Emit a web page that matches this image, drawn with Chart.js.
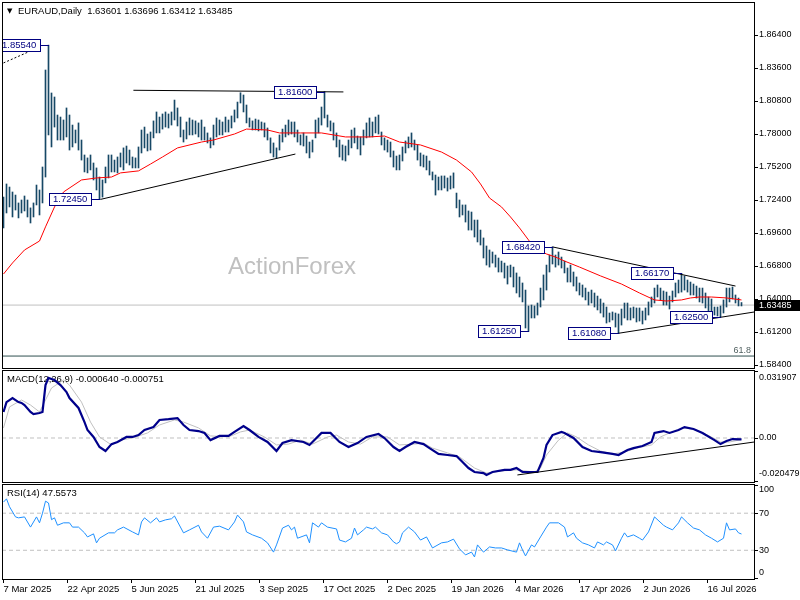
<!DOCTYPE html>
<html>
<head>
<meta charset="utf-8">
<script src="https://cdn.jsdelivr.net/npm/chart.js@4.4.1/dist/chart.umd.min.js"></script>
<style>
  body { margin: 0; background: #fff; width: 800px; height: 600px; overflow: hidden; position: relative; }
  canvas { position: absolute; left: 0; }
</style>
</head>
<body>
<canvas id="mainChart" width="800" height="369" style="top:0"></canvas>
<canvas id="macdChart" width="800" height="114" style="top:369px"></canvas>
<canvas id="rsiChart" width="800" height="117" style="top:483px"></canvas>
<script>
// daily bars, high / low (one entry per bar, oldest first)
var highs = [
  1.7265, 1.7376, 1.7350, 1.7308, 1.7282, 1.7215, 1.7240, 1.7274, 1.7240, 1.7173,
  1.7215, 1.7367, 1.7325, 1.7520, 1.8343, 1.8554, 1.8148, 1.8114, 1.7961, 1.7944,
  1.7919, 1.8021, 1.7961, 1.7876, 1.7834, 1.7894, 1.7749, 1.7622, 1.7597, 1.7622,
  1.7554, 1.7512, 1.7435, 1.7410, 1.7520, 1.7622, 1.7622, 1.7579, 1.7605, 1.7639,
  1.7682, 1.7698, 1.7664, 1.7605, 1.7597, 1.7690, 1.7834, 1.7859, 1.7800, 1.7817,
  1.7911, 1.7987, 1.7944, 1.7970, 1.7987, 1.7970, 1.7987, 1.8088, 1.8021, 1.7944,
  1.7834, 1.7902, 1.7936, 1.7919, 1.7911, 1.7894, 1.7919, 1.7859, 1.7809, 1.7767,
  1.7876, 1.7936, 1.7919, 1.7902, 1.7944, 1.7919, 1.7953, 1.8004, 1.8071, 1.8150,
  1.8131, 1.8046, 1.7936, 1.7911, 1.7927, 1.7919, 1.7902, 1.7894, 1.7851, 1.7767,
  1.7724, 1.7682, 1.7792, 1.7842, 1.7876, 1.7919, 1.7902, 1.7902, 1.7834, 1.7792,
  1.7809, 1.7783, 1.7732, 1.7749, 1.7919, 1.7936, 1.8029, 1.8160, 1.7961, 1.7911,
  1.7894, 1.7809, 1.7749, 1.7707, 1.7698, 1.7749, 1.7834, 1.7851, 1.7783, 1.7775,
  1.7834, 1.7894, 1.7936, 1.7902, 1.7944, 1.7961, 1.7817, 1.7767, 1.7749, 1.7732,
  1.7656, 1.7613, 1.7622, 1.7690, 1.7741, 1.7775, 1.7809, 1.7749, 1.7707, 1.7639,
  1.7622, 1.7613, 1.7571, 1.7478, 1.7452, 1.7435, 1.7444, 1.7444, 1.7427, 1.7444,
  1.7470, 1.7299, 1.7240, 1.7198, 1.7198, 1.7147, 1.7138, 1.7070, 1.7070, 1.6985,
  1.6918, 1.6850, 1.6816, 1.6799, 1.6773, 1.6748, 1.6722, 1.6705, 1.6680, 1.6688,
  1.6671, 1.6621, 1.6587, 1.6536, 1.6476, 1.6341, 1.6349, 1.6341, 1.6366, 1.6493,
  1.6604, 1.6688, 1.6773, 1.6842, 1.6773, 1.6799, 1.6756, 1.6722, 1.6663, 1.6688,
  1.6629, 1.6587, 1.6536, 1.6519, 1.6493, 1.6459, 1.6476, 1.6451, 1.6425, 1.6400,
  1.6366, 1.6332, 1.6281, 1.6290, 1.6281, 1.6273, 1.6315, 1.6366, 1.6366, 1.6324,
  1.6332, 1.6324, 1.6324, 1.6298, 1.6324, 1.6375, 1.6417, 1.6493, 1.6519, 1.6493,
  1.6468, 1.6459, 1.6425, 1.6468, 1.6536, 1.6561, 1.6617, 1.6595, 1.6561, 1.6544,
  1.6527, 1.6510, 1.6493, 1.6493, 1.6451, 1.6417, 1.6400, 1.6332, 1.6332, 1.6341,
  1.6392, 1.6493, 1.6493, 1.6502, 1.6434, 1.6408, 1.6370
];
var lows = [
  1.7003, 1.7130, 1.7181, 1.7096, 1.7155, 1.7088, 1.7130, 1.7147, 1.7096, 1.7045,
  1.7096, 1.7198, 1.7113, 1.7215, 1.7435, 1.7792, 1.7690, 1.7859, 1.7749, 1.7749,
  1.7749, 1.7775, 1.7664, 1.7690, 1.7724, 1.7664, 1.7579, 1.7478, 1.7470, 1.7495,
  1.7410, 1.7325, 1.7245, 1.7265, 1.7385, 1.7427, 1.7478, 1.7478, 1.7470, 1.7520,
  1.7495, 1.7554, 1.7537, 1.7512, 1.7512, 1.7512, 1.7639, 1.7682, 1.7656, 1.7664,
  1.7767, 1.7809, 1.7809, 1.7842, 1.7859, 1.7851, 1.7876, 1.7919, 1.7868, 1.7775,
  1.7732, 1.7758, 1.7792, 1.7792, 1.7800, 1.7775, 1.7749, 1.7749, 1.7724, 1.7682,
  1.7707, 1.7775, 1.7792, 1.7792, 1.7817, 1.7817, 1.7851, 1.7902, 1.7936, 1.8063,
  1.7987, 1.7894, 1.7859, 1.7834, 1.7834, 1.7826, 1.7834, 1.7775, 1.7749, 1.7639,
  1.7605, 1.7597, 1.7664, 1.7732, 1.7775, 1.7792, 1.7800, 1.7775, 1.7732, 1.7707,
  1.7698, 1.7639, 1.7597, 1.7647, 1.7767, 1.7809, 1.7876, 1.7936, 1.7859, 1.7826,
  1.7749, 1.7690, 1.7605, 1.7579, 1.7571, 1.7622, 1.7682, 1.7724, 1.7673, 1.7622,
  1.7707, 1.7767, 1.7775, 1.7775, 1.7809, 1.7800, 1.7707, 1.7664, 1.7647, 1.7605,
  1.7520, 1.7495, 1.7495, 1.7571, 1.7639, 1.7682, 1.7690, 1.7664, 1.7579, 1.7529,
  1.7520, 1.7495, 1.7452, 1.7410, 1.7282, 1.7325, 1.7325, 1.7342, 1.7316, 1.7333,
  1.7342, 1.7173, 1.7096, 1.7113, 1.7053, 1.6985, 1.6985, 1.6926, 1.6884, 1.6858,
  1.6748, 1.6688, 1.6671, 1.6705, 1.6671, 1.6629, 1.6629, 1.6578, 1.6527, 1.6587,
  1.6502, 1.6451, 1.6417, 1.6375, 1.6154, 1.6125, 1.6239, 1.6239, 1.6264, 1.6332,
  1.6392, 1.6476, 1.6629, 1.6697, 1.6671, 1.6688, 1.6663, 1.6621, 1.6544, 1.6544,
  1.6510, 1.6468, 1.6434, 1.6417, 1.6392, 1.6349, 1.6366, 1.6332, 1.6307, 1.6281,
  1.6247, 1.6196, 1.6205, 1.6222, 1.6162, 1.6108, 1.6179, 1.6239, 1.6222, 1.6222,
  1.6239, 1.6205, 1.6213, 1.6188, 1.6222, 1.6264, 1.6332, 1.6366, 1.6417, 1.6392,
  1.6349, 1.6349, 1.6315, 1.6375, 1.6417, 1.6451, 1.6459, 1.6476, 1.6459, 1.6434,
  1.6434, 1.6408, 1.6375, 1.6366, 1.6324, 1.6298, 1.6273, 1.6264, 1.6256, 1.6250,
  1.6281, 1.6332, 1.6375, 1.6400, 1.6366, 1.6341, 1.6341
];
var lastOHLC = [1.63601, 1.63696, 1.63412, 1.63485];

// moving average (red), read at a subset of bars
var maBars = [0, 3, 7, 12, 14, 17, 20, 26, 31, 36, 39, 45, 49, 53, 58, 66, 70, 77, 81, 88,
  92, 99, 106, 114, 122, 127, 132, 139, 146, 151, 156, 159, 162, 166, 169, 172, 175, 177, 181, 184,
  187, 192, 199, 206, 212, 217, 221, 226, 229, 232, 236, 241, 246];
var maValues = [1.6612, 1.6706, 1.6816, 1.6892, 1.7012, 1.7181, 1.7308, 1.7410, 1.7427, 1.7435,
  1.7470, 1.7487, 1.7545, 1.7605, 1.7682, 1.7732, 1.7749, 1.7800, 1.7842, 1.7834,
  1.7809, 1.7809, 1.7809, 1.7775, 1.7775, 1.7783, 1.7732, 1.7707, 1.7647, 1.7579,
  1.7478, 1.7376, 1.7257, 1.7181, 1.7096, 1.7003, 1.6901, 1.6833, 1.6782, 1.6756,
  1.6722, 1.6671, 1.6596, 1.6527, 1.6451, 1.6392, 1.6383, 1.6392, 1.6409, 1.6417,
  1.6417, 1.6409, 1.6392];

// swing labels on the price panel
var swingBars = [15, 107, 32, 183, 175, 205, 226, 239];
var swingPrices = [1.8554, 1.8160, 1.7245, 1.6842, 1.6125, 1.6108, 1.6617, 1.6250];

// trendlines on the price panel (first one dashed)
var trendStartBar = [0, 43.3, 32.3, 183, 204.7];
var trendStartPrice = [1.8403, 1.8171, 1.7245, 1.6842, 1.6108];
var trendEndBar = [12, 113.3, 97.3, 244, 250.3];
var trendEndPrice = [1.8538, 1.8157, 1.7630, 1.6510, 1.6290];
var fibLevel = 1.5916;
var fibName = '61.8';

var priceTicks = [1.864, 1.836, 1.808, 1.780, 1.752, 1.724, 1.696, 1.668, 1.640, 1.612, 1.584];

// MACD(12,26,9)
var macdBars = [0, 1, 3, 5, 6, 7, 9, 10, 12, 13, 14, 15, 16, 17, 19, 21, 22, 25, 27, 28,
  30, 32, 34, 36, 38, 41, 43, 45, 47, 50, 52, 55, 58, 60, 62, 65, 67, 69, 72, 75,
  77, 80, 82, 85, 88, 91, 93, 96, 100, 102, 106, 109, 112, 115, 118, 121, 125, 127, 130, 132,
  134, 137, 140, 142, 145, 148, 151, 153, 155, 157, 160, 161, 163, 167, 169, 171, 173, 176, 178, 180,
  181, 183, 186, 187, 190, 193, 196, 199, 203, 205, 208, 210, 213, 216, 217, 220, 222, 225, 227, 230,
  233, 237, 239, 241, 243, 246];
var macdMain = [0.0124, 0.0171, 0.0190, 0.0171, 0.0167, 0.0157, 0.0124, 0.0114, 0.0119, 0.0124,
  0.0252, 0.0286, 0.0281, 0.0276, 0.0252, 0.0219, 0.0190, 0.0143, 0.0076, 0.0038,
  0.0005, -0.0043, -0.0062, -0.0029, -0.0019, 0.0005, 0.0005, 0.0014, 0.0038, 0.0052,
  0.0086, 0.0090, 0.0095, 0.0062, 0.0038, 0.0033, 0.0024, -0.0010, 0.0010, 0.0010,
  0.0029, 0.0057, 0.0038, 0.0005, -0.0019, -0.0062, -0.0024, -0.0010, -0.0019, -0.0033,
  0.0024, 0.0024, -0.0019, -0.0043, -0.0024, 0.0005, 0.0019, 0.0000, -0.0043, -0.0062,
  -0.0043, -0.0019, -0.0029, -0.0048, -0.0076, -0.0081, -0.0086, -0.0114, -0.0143, -0.0162,
  -0.0167, -0.0176, -0.0162, -0.0152, -0.0152, -0.0143, -0.0162, -0.0162, -0.0162, -0.0095,
  -0.0033, 0.0014, 0.0029, 0.0024, 0.0000, -0.0043, -0.0062, -0.0067, -0.0076, -0.0081,
  -0.0057, -0.0048, -0.0038, -0.0019, 0.0024, 0.0033, 0.0024, 0.0038, 0.0052, 0.0043,
  0.0024, -0.0010, -0.0029, -0.0014, -0.0005, -0.000640];
var signalBars = [0, 2, 6, 9, 12, 16, 20, 22, 26, 29, 32, 36, 39, 43, 48, 52, 57, 60, 65, 69,
  75, 79, 82, 87, 91, 95, 99, 103, 108, 111, 115, 119, 123, 128, 132, 137, 140, 143, 148, 152,
  157, 161, 166, 171, 177, 179, 181, 185, 188, 191, 195, 199, 203, 207, 211, 216, 219, 222, 227, 231,
  236, 239, 242, 246];
var macdSignal = [0.0048, 0.0148, 0.0181, 0.0157, 0.0124, 0.0238, 0.0276, 0.0252, 0.0171, 0.0076,
  0.0005, -0.0033, -0.0010, 0.0000, 0.0024, 0.0062, 0.0086, 0.0076, 0.0048, 0.0010,
  0.0005, 0.0029, 0.0038, 0.0005, -0.0033, -0.0029, -0.0010, -0.0029, 0.0005, 0.0014,
  -0.0019, -0.0029, 0.0005, 0.0005, -0.0033, -0.0029, -0.0024, -0.0048, -0.0071, -0.0090,
  -0.0143, -0.0167, -0.0157, -0.0152, -0.0162, -0.0143, -0.0081, -0.0010, 0.0024, 0.0005,
  -0.0033, -0.0062, -0.0076, -0.0067, -0.0048, -0.0033, 0.0005, 0.0024, 0.0048, 0.0038,
  0.0005, -0.0019, -0.0019, -0.000751];
var macdTrendBar = [171.3, 250.3];
var macdTrendValue = [-0.0176, -0.0019];
var macdTicks = [0.031907, 0, -0.020479];
var macdTickLabels = ['0.031907', '0.00', '-0.020479'];

// RSI(14)
var rsiBars = [0, 1, 2, 4, 5, 7, 9, 11, 12, 13, 14, 15, 16, 17, 18, 20, 22, 23, 25, 27,
  28, 30, 31, 32, 35, 37, 38, 40, 43, 45, 46, 47, 49, 51, 52, 54, 56, 57, 60, 62,
  65, 66, 68, 70, 72, 75, 77, 78, 80, 81, 83, 86, 88, 90, 91, 93, 95, 96, 97, 98,
  101, 102, 103, 105, 106, 108, 111, 112, 114, 116, 117, 118, 120, 121, 123, 124, 126, 128, 130, 131,
  132, 133, 135, 137, 139, 141, 143, 146, 148, 150, 152, 154, 156, 157, 158, 160, 162, 164, 166, 168,
  171, 172, 173, 174, 176, 177, 179, 181, 182, 185, 187, 188, 190, 191, 193, 195, 197, 198, 200, 201,
  203, 204, 206, 207, 208, 210, 212, 213, 215, 217, 220, 221, 223, 225, 226, 228, 230, 232, 234, 236,
  238, 240, 241, 242, 244, 245, 246];
var rsiValues = [82, 85.5, 77, 66, 65, 66, 55, 66, 59.6, 70, 83, 81, 63, 65, 57, 59.6, 59.6, 55, 55, 48.8,
  44.4, 47.7, 38, 43, 48.8, 48.8, 52, 55, 49.8, 46.6, 60.6, 65, 59.6, 65, 60.6, 62.8, 64, 67, 48.8, 52,
  57, 49.8, 43, 55, 56, 52, 60.6, 68, 60.6, 49.8, 46.6, 43, 38, 28, 35.8, 54, 57, 52, 55, 43,
  46.6, 38, 59.6, 55, 59.6, 55, 53, 41, 39, 43, 54, 46.6, 52, 55, 53, 55, 48.8, 46.6, 39, 37,
  39, 48.8, 55, 49.8, 41, 44.4, 32.5, 38, 39, 42, 31.5, 25, 28, 22.8, 35.8, 28, 33.6, 32.5, 32.5, 30.4,
  28, 38, 30.4, 23.9, 35.8, 33.6, 44.4, 55, 59.6, 59.6, 55, 44.4, 48.8, 43, 38, 35.8, 32.5, 39, 35.8, 39,
  35.8, 29.3, 43, 48.8, 44.4, 46.6, 43, 41, 49.8, 66, 57, 55, 52, 59.6, 66, 59.6, 54, 52, 46.6, 43,
  39, 43, 59.6, 52, 53, 48.8, 47.5573];
var rsiLevels = [70, 30];
var rsiTicks = [100, 70, 30, 0];

// time axis
var dateBars = [0, 21.33, 42.67, 64, 85.33, 106.67, 128, 149.33, 170.67, 192, 213.33, 234.67];
var dateLabels = ['7 Mar 2025', '22 Apr 2025', '5 Jun 2025', '21 Jul 2025', '3 Sep 2025', '17 Oct 2025',
  '2 Dec 2025', '19 Jan 2026', '4 Mar 2026', '17 Apr 2026', '2 Jun 2026', '16 Jul 2026'];

var FAMILY = '"Liberation Sans", Arial, sans-serif';
var FONT = '9px ' + FAMILY;
var TITLE_FONT = '9.5px ' + FAMILY;
var X_MIN = -0.5, X_MAX = 250 + 1 / 6;

function pts(xs, ys) {
  return xs.map(function (x, k) { return { x: x, y: ys[k] }; });
}
function flat(v) {
  return [{ x: X_MIN, y: v }, { x: X_MAX, y: v }];
}
function lineSet(data, color, width, extra) {
  return Object.assign({
    type: 'line', data: data, borderColor: color, borderWidth: width,
    pointRadius: 0, tension: 0, fill: false
  }, extra || {});
}

// frame, right-hand labels and extra drawing for one panel
function panel(cfg) {
  return {
    id: 'panel',
    beforeDatasetsDraw: function (chart) {
      var ctx = chart.ctx, a = chart.chartArea;
      ctx.save();
      if (cfg.under) cfg.under(ctx, chart);
      ctx.font = TITLE_FONT;
      ctx.fillStyle = '#000';
      ctx.textAlign = 'left';
      ctx.textBaseline = 'middle';
      ctx.fillText(cfg.title, cfg.titleX, a.top + 9);
      ctx.restore();
    },
    afterDraw: function (chart) {
      var ctx = chart.ctx, a = chart.chartArea, ys = chart.scales.y;
      ctx.save();
      ctx.strokeStyle = '#000';
      ctx.lineWidth = 1;
      ctx.strokeRect(a.left + 0.5, a.top + 0.5, a.right - a.left, a.bottom - a.top);
      ctx.font = FONT;
      ctx.fillStyle = '#000';
      ctx.textAlign = 'left';
      ctx.textBaseline = 'middle';
      cfg.ticks.forEach(function (v, k) {
        var py = ys.getPixelForValue(v);
        if (py >= a.top && py <= a.bottom) {
          ctx.beginPath();
          ctx.moveTo(a.right, Math.round(py) + 0.5);
          ctx.lineTo(a.right + 4, Math.round(py) + 0.5);
          ctx.stroke();
        }
        var ly = cfg.inset ? Math.min(Math.max(py, a.top + cfg.inset), a.bottom - cfg.inset) : py;
        ctx.fillText(cfg.labels[k], a.right + 5, ly);
      });
      if (cfg.over) cfg.over(ctx, chart);
      ctx.restore();
    }
  };
}

var baseOptions = function (pad, yMin, yMax) {
  return {
    responsive: false,
    animation: false,
    events: [],
    layout: { padding: pad },
    scales: {
      x: { type: 'linear', min: X_MIN, max: X_MAX, display: false, offset: false },
      y: { type: 'linear', min: yMin, max: yMax, display: false }
    },
    plugins: { legend: { display: false }, tooltip: { enabled: false } }
  };
};

// ---------- price panel ----------
var bars = highs.map(function (h, i) { return { x: i, y: [lows[i], h] }; });
var trendSets = trendStartBar.map(function (b, k) {
  return lineSet([{ x: b, y: trendStartPrice[k] }, { x: trendEndBar[k], y: trendEndPrice[k] }],
    '#000', 1, { order: 0, borderDash: k === 0 ? [2, 2] : [] });
});

new Chart(document.getElementById('mainChart'), {
  type: 'bar',
  data: {
    datasets: [
      lineSet(flat(lastOHLC[3]), '#c0c0c0', 1, { order: 5 }),
      lineSet(flat(fibLevel), '#2f4f4f', 1, { order: 4 }),
      { type: 'bar', data: bars, backgroundColor: '#174866', barThickness: 1, order: 3 },
      lineSet(pts(maBars, maValues), '#ff0000', 1, { order: 1 })
    ].concat(trendSets)
  },
  options: baseOptions({ left: 2, top: 2, right: 46, bottom: 1 }, 1.58146, 1.8920),
  plugins: [panel({
    title: 'EURAUD,Daily  ' + lastOHLC.map(function (v) { return v.toFixed(5); }).join(' '),
    titleX: 18,
    ticks: priceTicks,
    labels: priceTicks.map(function (v) { return v.toFixed(5); }),
    inset: 0,
    under: function (ctx, chart) {
      var a = chart.chartArea;
      ctx.font = '24px ' + FAMILY;
      ctx.fillStyle = '#c0c0c0';
      ctx.textBaseline = 'alphabetic';
      ctx.fillText('ActionForex', 228, 274);
      ctx.font = '7px "DejaVu Sans", sans-serif';
      ctx.fillStyle = '#000';
      ctx.textBaseline = 'middle';
      ctx.fillText('\u25BC', 7, a.top + 9);
    },
    over: function (ctx, chart) {
      var a = chart.chartArea, xs = chart.scales.x, ys = chart.scales.y;
      // swing high / low boxes
      ctx.save();
      ctx.beginPath();
      ctx.rect(a.left + 1, a.top + 1, a.right - a.left - 1, a.bottom - a.top - 1);
      ctx.clip();
      ctx.font = TITLE_FONT;
      ctx.textBaseline = 'middle';
      swingBars.forEach(function (b, k) {
        var text = swingPrices[k].toFixed(5);
        var px = Math.round(xs.getPixelForValue(b));
        var py = Math.round(ys.getPixelForValue(swingPrices[k]));
        var w = Math.ceil(ctx.measureText(text).width) + 7, h = 12;
        var right = px - 9, left = right - w;
        ctx.fillStyle = '#fff';
        ctx.fillRect(left, py - 6, w, h);
        ctx.strokeStyle = '#000080';
        ctx.strokeRect(left + 0.5, py - 5.5, w, h);
        ctx.beginPath();
        ctx.moveTo(right, py + 0.5);
        ctx.lineTo(px, py + 0.5);
        ctx.stroke();
        ctx.fillStyle = '#000080';
        ctx.fillText(text, left + 4, py + 0.5);
      });
      // fibo level name
      ctx.font = FONT;
      ctx.fillStyle = '#4f5f5f';
      ctx.textAlign = 'right';
      ctx.fillText(fibName, a.right - 3, ys.getPixelForValue(fibLevel) - 6);
      ctx.restore();
      // last price box on the axis
      var cy = Math.round(ys.getPixelForValue(lastOHLC[3]));
      ctx.fillStyle = '#000';
      ctx.fillRect(a.right + 1, cy - 5, 800 - a.right - 1, 11);
      ctx.fillStyle = '#fff';
      ctx.textAlign = 'left';
      ctx.fillText(lastOHLC[3].toFixed(5), a.right + 5, cy + 0.5);
    }
  })]
});

// ---------- MACD panel ----------
new Chart(document.getElementById('macdChart'), {
  type: 'line',
  data: {
    datasets: [
      lineSet(flat(0), '#c0c0c0', 1, { order: 4, borderDash: [4, 3] }),
      lineSet(pts(signalBars, macdSignal), '#c0c0c0', 1, { order: 3 }),
      lineSet(pts(macdBars, macdMain), '#00008b', 2.2, { order: 2 }),
      lineSet(pts(macdTrendBar, macdTrendValue), '#000', 1, { order: 1 })
    ]
  },
  options: baseOptions({ left: 2, top: 1, right: 46, bottom: 1 }, -0.020955, 0.032383),
  plugins: [panel({
    title: 'MACD(12,26,9) ' + macdMain[macdMain.length - 1].toFixed(6) + ' ' +
      macdSignal[macdSignal.length - 1].toFixed(6),
    titleX: 7,
    ticks: macdTicks,
    labels: macdTickLabels,
    inset: 8
  })]
});

// ---------- RSI panel ----------
var rsiOptions = baseOptions({ left: 2, top: 1, right: 46, bottom: 0 }, -1, 101.5);
rsiOptions.scales.x = {
  type: 'linear', min: X_MIN, max: X_MAX, offset: false, position: 'bottom',
  afterBuildTicks: function (scale) {
    scale.ticks = dateBars.map(function (v) { return { value: v }; });
  },
  afterFit: function (scale) { scale.height = 21; },
  ticks: {
    autoSkip: false, maxRotation: 0, minRotation: 0, align: 'start', padding: 1,
    color: '#000', font: { family: FAMILY, size: 9.5 },
    callback: function (v, k) { return dateLabels[k]; }
  },
  grid: { drawOnChartArea: false, drawTicks: true, tickLength: 4, color: '#000' },
  border: { display: false }
};

new Chart(document.getElementById('rsiChart'), {
  type: 'line',
  data: {
    datasets: rsiLevels.map(function (lv) {
      return lineSet(flat(lv), '#c0c0c0', 1, { order: 3, borderDash: [4, 3] });
    }).concat([lineSet(pts(rsiBars, rsiValues), '#1e90ff', 1, { order: 1 })])
  },
  options: rsiOptions,
  plugins: [panel({
    title: 'RSI(14) ' + rsiValues[rsiValues.length - 1].toFixed(4),
    titleX: 7,
    ticks: rsiTicks,
    labels: rsiTicks.map(String),
    inset: 6
  })]
});
</script>
</body>
</html>
